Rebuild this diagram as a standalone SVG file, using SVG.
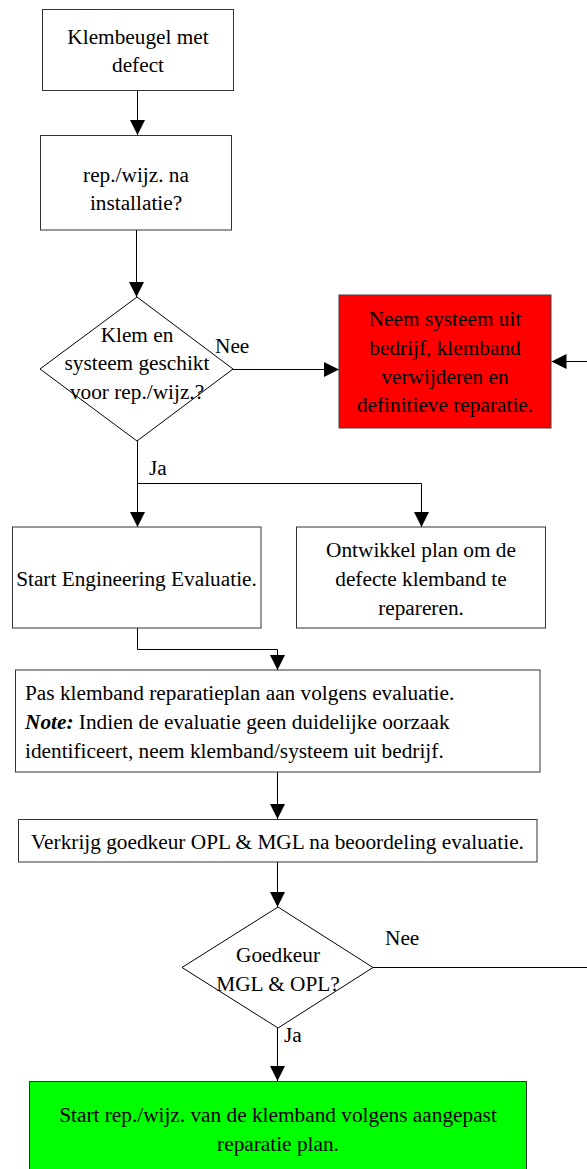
<svg xmlns="http://www.w3.org/2000/svg" width="587" height="1169" viewBox="0 0 587 1169">
<style>
  text { font-family: 'Liberation Serif', 'Times New Roman', serif; font-size: 21.3px; fill: #000; }
  .c { text-anchor: middle; }
  .box { fill: #fff; stroke: #333; stroke-width: 1; }
  .dia { fill: #fff; stroke: #000; stroke-width: 1; }
  .conn { fill: none; stroke: #000; stroke-width: 1; }
  .bi { font-weight: bold; font-style: italic; }
</style>
<defs>
  <marker id="arr" markerUnits="userSpaceOnUse" markerWidth="15" markerHeight="15" refX="15" refY="7.5" orient="auto">
    <path d="M0,0 L15,7.5 L0,15 z" fill="#000"/>
  </marker>
</defs>
<rect width="587" height="1169" fill="#fff"/>

<g id="connectors">
  <path class="conn" d="M137.5,91 V135" marker-end="url(#arr)"/>
  <path class="conn" d="M136.5,230 V297" marker-end="url(#arr)"/>
  <path class="conn" d="M233,369.5 H339" marker-end="url(#arr)"/>
  <path class="conn" d="M137.5,441 V527" marker-end="url(#arr)"/>
  <path class="conn" d="M137.5,483.5 H421.5 V527" marker-end="url(#arr)"/>
  <path class="conn" d="M137.5,628 V649.5 H277.5 V670" marker-end="url(#arr)"/>
  <path class="conn" d="M277.5,772 V819" marker-end="url(#arr)"/>
  <path class="conn" d="M277.5,862 V907" marker-end="url(#arr)"/>
  <path class="conn" d="M373,967.5 H587"/>
  <path class="conn" d="M587,361.5 H551.5" marker-end="url(#arr)"/>
  <path class="conn" d="M277.5,1028 V1081" marker-end="url(#arr)"/>
</g>

<g id="n1">
  <rect class="box" x="42.5" y="9.5" width="191" height="81"/>
  <text class="c" x="138" y="44">Klembeugel met</text>
  <text class="c" x="138" y="72">defect</text>
</g>

<g id="n2">
  <rect class="box" x="40.5" y="135.5" width="191" height="94.5"/>
  <text class="c" x="136" y="182">rep./wijz. na</text>
  <text class="c" x="136" y="210">installatie?</text>
</g>

<g id="n3">
  <polygon class="dia" points="137,297 233,369 137,441 40,369"/>
  <text class="c" x="137" y="342">Klem en</text>
  <text class="c" x="137" y="370">systeem geschikt</text>
  <text class="c" x="137" y="399">voor rep./wijz.?</text>
</g>

<g id="lbl-nee1"><text x="215" y="353">Nee</text></g>
<g id="lbl-ja1"><text x="149" y="475">Ja</text></g>

<g id="n4">
  <rect x="339" y="295" width="212" height="133" fill="#ff0000" stroke="#404040" stroke-width="1"/>
  <text class="c" x="445" y="326">Neem systeem uit</text>
  <text class="c" x="445" y="355">bedrijf, klemband</text>
  <text class="c" x="445" y="384">verwijderen en</text>
  <text class="c" x="445" y="412">definitieve reparatie.</text>
</g>

<g id="n5">
  <rect class="box" x="12.5" y="527" width="248.5" height="101"/>
  <text class="c" x="136.5" y="586">Start Engineering Evaluatie.</text>
</g>

<g id="n6">
  <rect class="box" x="296.5" y="527" width="249" height="101"/>
  <text class="c" x="421" y="557">Ontwikkel plan om de</text>
  <text class="c" x="421" y="586">defecte klemband te</text>
  <text class="c" x="421" y="615">repareren.</text>
</g>

<g id="n7">
  <rect class="box" x="15.5" y="670" width="524.5" height="102" stroke="#555"/>
  <text x="25" y="700">Pas klemband reparatieplan aan volgens evaluatie.</text>
  <text x="25" y="729"><tspan class="bi">Note:</tspan> Indien de evaluatie geen duidelijke oorzaak</text>
  <text x="25" y="758">identificeert, neem klemband/systeem uit bedrijf.</text>
</g>

<g id="n8">
  <rect class="box" x="18.5" y="819.5" width="518.5" height="42.5"/>
  <text class="c" x="277.5" y="849">Verkrijg goedkeur OPL &amp; MGL na beoordeling evaluatie.</text>
</g>

<g id="n9">
  <polygon class="dia" points="278,907 373,967.5 278,1028 182,967.5"/>
  <text class="c" x="278" y="962">Goedkeur</text>
  <text class="c" x="278" y="991">MGL &amp; OPL?</text>
</g>

<g id="lbl-nee2"><text x="385" y="945">Nee</text></g>
<g id="lbl-ja2"><text x="284" y="1042">Ja</text></g>

<g id="n10">
  <rect x="29.5" y="1081.5" width="497" height="100" fill="#00ff00" stroke="#333" stroke-width="1"/>
  <text class="c" x="278" y="1122">Start rep./wijz. van de klemband volgens aangepast</text>
  <text class="c" x="278" y="1151">reparatie plan.</text>
</g>
</svg>
